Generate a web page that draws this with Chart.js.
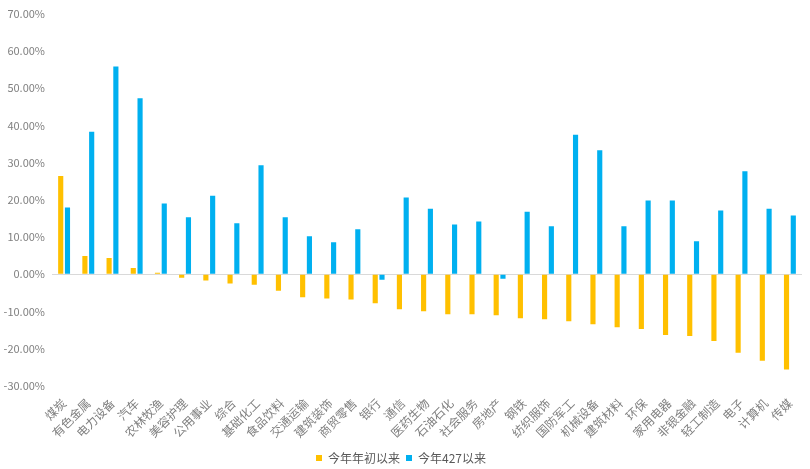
<!DOCTYPE html>
<html>
<head>
<meta charset="utf-8">
<script src="https://cdn.jsdelivr.net/npm/chart.js@4"></script>
<style>
html,body{margin:0;padding:0;background:#fff;}
#wrap{width:810px;height:469px;}
</style>
</head>
<body>
<div id="wrap"><canvas id="chart"></canvas></div>
<script>
const industries=["煤炭","有色金属","电力设备","汽车","农林牧渔","美容护理","公用事业","综合","基础化工","食品饮料","交通运输","建筑装饰","商贸零售","银行","通信","医药生物","石油石化","社会服务","房地产","钢铁","纺织服饰","国防军工","机械设备","建筑材料","环保","家用电器","非银金融","轻工制造","电子","计算机","传媒"];
const sinceYearStart=[26.4,4.9,4.4,1.7,0.4,-0.9,-1.7,-2.5,-2.8,-4.4,-6.2,-6.5,-6.8,-7.8,-9.4,-9.9,-10.7,-10.7,-11.0,-11.8,-12.1,-12.6,-13.4,-14.2,-14.7,-16.3,-16.6,-17.9,-21.1,-23.2,-25.6];
const since427=[17.9,38.3,55.8,47.3,19.0,15.3,21.1,13.7,29.3,15.3,10.2,8.6,12.1,-1.5,20.6,17.6,13.4,14.2,-1.2,16.8,12.9,37.5,33.3,12.9,19.8,19.8,8.9,17.1,27.7,17.6,15.8];
const seriesNames=["今年年初以来","今年427以来"];

const gray="#808080";
const font="'Noto Sans CJK SC', sans-serif";

new Chart(document.getElementById("chart"),{
type:"bar",
data:{labels:industries,datasets:[
{label:seriesNames[0],data:sinceYearStart,backgroundColor:"#FFC000",barPercentage:0.76,categoryPercentage:0.56},
{label:seriesNames[1],data:since427,backgroundColor:"#00B0F0",barPercentage:0.76,categoryPercentage:0.56}
]},
options:{
responsive:true,maintainAspectRatio:false,animation:false,
layout:{padding:{top:3,right:8,left:0,bottom:-5}},
plugins:{
legend:{position:"bottom",labels:{font:{family:font,size:12},color:"#595959",boxWidth:6,boxHeight:6,padding:6}},
tooltip:{enabled:false}
},
scales:{
x:{
grid:{display:false},border:{display:false},
ticks:{color:gray,font:{family:font,size:12},minRotation:45,maxRotation:45,autoSkip:false,padding:2},
afterFit:s=>{s.height=60;}
},
y:{
min:-30,max:70,
ticks:{stepSize:10,color:gray,font:{family:font,size:11},padding:7,callback:v=>v.toFixed(2)+"%"},
grid:{drawTicks:false,lineWidth:c=>c.tick.value===0?1:0,color:"#d9d9d9"},
border:{display:false},
afterFit:s=>{s.width=52;}
}
}
}
});
</script>
</body>
</html>
